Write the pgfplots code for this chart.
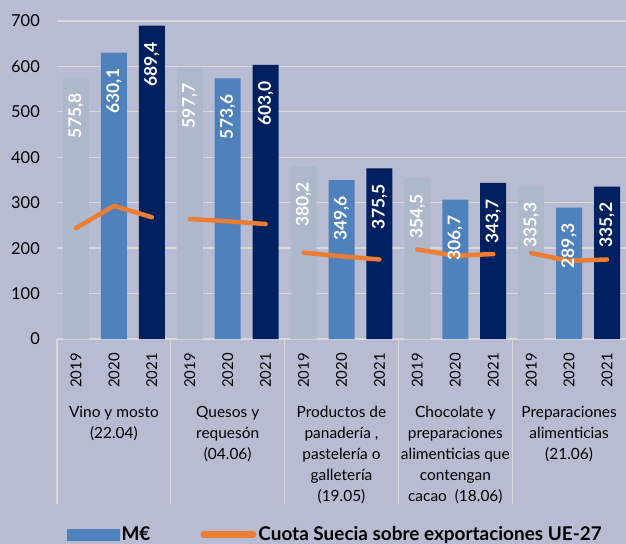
\documentclass[border=0pt]{standalone}
\usepackage{fontspec}
\setmainfont{Lato}
\usepackage{pgfplots}
\pgfplotsset{compat=1.18}
\definecolor{bgc}{HTML}{B8BCD2}
\definecolor{c19}{HTML}{ADB9CB}
\definecolor{c20}{HTML}{4F81BD}
\definecolor{c21}{HTML}{002060}
\definecolor{orc}{HTML}{ED7D31}
\definecolor{gridc}{HTML}{D9D9D9}
\begin{document}
\begin{tikzpicture}
\fill[bgc] (-57bp,-205bp) rectangle (569bp,339bp);
\begin{axis}[
  at={(0,0)}, anchor=south west,
  scale only axis, width=569bp, height=339bp,
  xmin=-0.5, xmax=14.5, ymin=0, ymax=746,
  axis line style={draw=none},
  major tick length=0pt,
  ytick={0,100,...,700},
  ymajorgrids, grid style={gridc, line width=1.3bp},
  xtick={0,...,14},
  xticklabels={2019,2020,2021,2019,2020,2021,2019,2020,2021,2019,2020,2021,2019,2020,2021},
  xticklabel style={rotate=90, anchor=east, inner sep=0pt, font=\fontsize{15}{15}\selectfont},
  xticklabel shift=14bp,
  yticklabel style={anchor=east, inner sep=0pt, font=\fontsize{16.5}{16.5}\selectfont},
  yticklabel shift=17bp,
  /pgf/number format/assume math mode=true,
  clip=false,
  bar width=26bp,
  legend style={at={(axis description cs:0.0176,-0.576)}, anchor=west, draw=none, fill=none,
    inner sep=0pt, font=\fontsize{19}{19}\selectfont\bfseries,
    /tikz/every even column/.append style={column sep=48bp}},
  legend columns=2,
  lbl/.style={ybar, bar shift=0pt, draw=none, fill=none, forget plot,
    nodes near coords={\pgfmathprintnumber[fixed,fixed zerofill,precision=1,use comma]{\pgfplotspointmeta}},
    nodes near coords style={rotate=90, anchor=east, inner ysep=0pt, inner xsep=16bp,
      font=\fontsize{17.5}{17.5}\selectfont\bfseries, text=white}},
]
% bars
\addplot[ybar, bar shift=0pt, fill=c19, draw=none, forget plot] coordinates {(0,575.8) (3,597.7) (6,380.2) (9,354.5) (12,335.3)};
\addplot[ybar, bar shift=0pt, fill=c20, draw=none, forget plot] coordinates {(1,630.1) (4,573.6) (7,349.6) (10,306.7) (13,289.3)};
\addplot[ybar, bar shift=0pt, fill=c21, draw=none, forget plot] coordinates {(2,689.4) (5,603.0) (8,375.5) (11,343.7) (14,335.2)};
\addlegendimage{legend image code/.code={\fill[c20] (0bp,-5.5bp) rectangle (52bp,5.5bp);}}
\addlegendentry{M€}
% share line
\addplot[orc, line width=4.5bp, line cap=round, line join=round, unbounded coords=jump,
  legend image code/.code={\draw[orc, line width=6.5bp, line cap=round] (3.25bp,0bp) -- (52.75bp,0bp);}]
  coordinates {(0,244) (1,293) (2,268) (2.5,nan)
               (3,264) (4,259) (5,253) (5.5,nan)
               (6,190) (7,182) (8,175) (8.5,nan)
               (9,197) (10,183) (11,187) (11.5,nan)
               (12,189) (13,172) (14,175)};
\addlegendentry{Cuota Suecia sobre exportaciones UE-27}
% value labels on top
\addplot[lbl] coordinates {(0,575.8) (3,597.7) (6,380.2) (9,354.5) (12,335.3)};
\addplot[lbl] coordinates {(1,630.1) (4,573.6) (7,349.6) (10,306.7) (13,289.3)};
\addplot[lbl] coordinates {(2,689.4) (5,603.0) (8,375.5) (11,343.7) (14,335.2)};
% group separators
\pgfplotsinvokeforeach{-0.5,2.5,5.5,8.5,11.5}{
  \draw[gridc, line width=1.3bp] (axis cs:#1,0) -- ([yshift=-165bp]axis cs:#1,0);
}
% group labels
\tikzset{grp/.style={anchor=north, align=center, inner sep=0pt, font=\fontsize{15.5}{21}\selectfont, yshift=-67bp}}
\node[grp] at (axis cs:1,0) {Vino y mosto\\(22.04)};
\node[grp] at (axis cs:4,0) {Quesos y\\requesón\\(04.06)};
\node[grp] at (axis cs:7,0) {Productos de\\panadería ,\\pastelería o\\galletería\\(19.05)};
\node[grp] at (axis cs:10,0) {Chocolate y\\preparaciones\\alimenticias que\\contengan\\cacao~~(18.06)};
\node[grp] at (axis cs:13,0) {Preparaciones\\alimenticias\\(21.06)};
\end{axis}
\pgfresetboundingbox
\useasboundingbox (-57bp,-205bp) rectangle (569bp,339bp);
\end{tikzpicture}
\end{document}
